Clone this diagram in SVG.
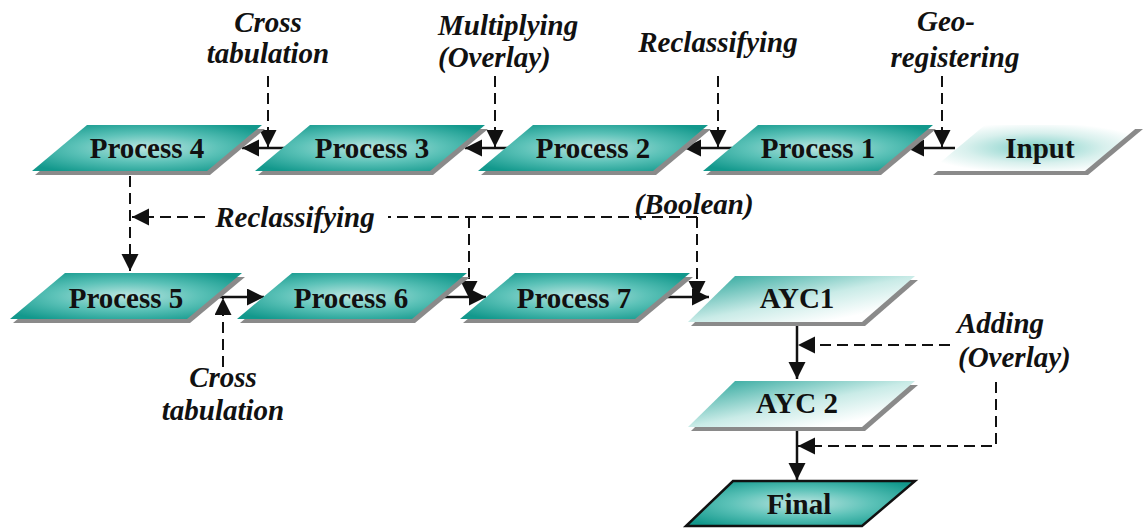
<svg xmlns="http://www.w3.org/2000/svg" width="1145" height="530" viewBox="0 0 1145 530">
<defs>
<radialGradient id="teal" cx="0.5" cy="0.5" r="0.62">
<stop offset="0" stop-color="#bde6e1"/>
<stop offset="0.5" stop-color="#5cc2b8"/>
<stop offset="1" stop-color="#12988c"/>
</radialGradient>
<linearGradient id="light" x1="0" y1="0" x2="1" y2="1">
<stop offset="0" stop-color="#1ea095"/>
<stop offset="0.5" stop-color="#c9ebe7"/>
<stop offset="0.8" stop-color="#ffffff"/>
</linearGradient>
<radialGradient id="inputg" cx="0.5" cy="0.5" r="0.55">
<stop offset="0" stop-color="#7fd0c8"/>
<stop offset="0.6" stop-color="#d8f0ed"/>
<stop offset="1" stop-color="#ffffff"/>
</radialGradient>
<marker id="ah" markerUnits="userSpaceOnUse" markerWidth="18" markerHeight="18" refX="17" refY="8.5" orient="auto">
<path d="M0,0 L17,8.5 L0,17 z" fill="#111"/>
</marker>
</defs>
<style>
.shadow{fill:#8a8a8a}
.proc{fill:url(#teal)}
.lite{fill:url(#light)}
.solid{stroke:#111;stroke-width:2.5;fill:none}
.dash{stroke:#111;stroke-width:2;fill:none;stroke-dasharray:11 6}
</style>

<g id="connectors">
<path class="solid" d="M290,148 H242" marker-end="url(#ah)"/>
<path class="dash" d="M268,76 V147" marker-end="url(#ah)"/>
<path class="solid" d="M513,148 H465" marker-end="url(#ah)"/>
<path class="dash" d="M495,76 V147" marker-end="url(#ah)"/>
<path class="solid" d="M732,148 H684" marker-end="url(#ah)"/>
<path class="dash" d="M718,76 V147" marker-end="url(#ah)"/>
<path class="solid" d="M955,148 H907" marker-end="url(#ah)"/>
<path class="dash" d="M942,76 V147" marker-end="url(#ah)"/>
<path class="dash" d="M130,176 V271" marker-end="url(#ah)"/>
<path class="dash" d="M697,217 H388"/>
<path class="dash" d="M205,217 H132" marker-end="url(#ah)"/>
<path class="dash" d="M469,217 V298" marker-end="url(#ah)"/>
<path class="dash" d="M697,217 V298" marker-end="url(#ah)"/>
<path class="solid" d="M215,297 H264" marker-end="url(#ah)"/>
<path class="dash" d="M223,367 V298" marker-end="url(#ah)"/>
<path class="solid" d="M438,297 H486" marker-end="url(#ah)"/>
<path class="solid" d="M663,297 H709" marker-end="url(#ah)"/>
<path class="solid" d="M797,323 V379" marker-end="url(#ah)"/>
<path class="dash" d="M950,345 H798" marker-end="url(#ah)"/>
<path class="solid" d="M797,428 V480" marker-end="url(#ah)"/>
<path class="dash" d="M996,382 V446 H798" marker-end="url(#ah)"/>
</g>

<g font-family="Liberation Serif, Times New Roman, serif" font-weight="bold" font-size="29" fill="#111" text-anchor="middle">
<g id="process4">
<polygon class="shadow" points="90,129 265,129 210,175 35,175"/>
<polygon class="proc" points="87,125 262,125 207,171 32,171"/>
<text x="147" y="158">Process 4</text>
</g>
<g id="process3">
<polygon class="shadow" points="313,129 488,129 433,175 258,175"/>
<polygon class="proc" points="310,125 485,125 430,171 255,171"/>
<text x="372" y="158">Process 3</text>
</g>
<g id="process2">
<polygon class="shadow" points="536,129 711,129 656,175 481,175"/>
<polygon class="proc" points="533,125 708,125 653,171 478,171"/>
<text x="593" y="158">Process 2</text>
</g>
<g id="process1">
<polygon class="shadow" points="761,129 936,129 881,175 706,175"/>
<polygon class="proc" points="758,125 933,125 878,171 703,171"/>
<text x="818" y="158">Process 1</text>
</g>
<g id="input">
<polygon class="shadow" points="988,129 1143,129 1088,175 933,175"/>
<polygon fill="url(#inputg)" points="985,125 1140,125 1085,171 930,171"/>
<text x="1040" y="158">Input</text>
</g>
<g id="process5">
<polygon class="shadow" points="68,277 245,277 190,323 13,323"/>
<polygon class="proc" points="65,273 242,273 187,319 10,319"/>
<text x="126" y="308">Process 5</text>
</g>
<g id="process6">
<polygon class="shadow" points="295,277 470,277 415,323 240,323"/>
<polygon class="proc" points="292,273 467,273 412,319 237,319"/>
<text x="351" y="308">Process 6</text>
</g>
<g id="process7">
<polygon class="shadow" points="518,277 693,277 638,323 463,323"/>
<polygon class="proc" points="515,273 690,273 635,319 460,319"/>
<text x="574" y="308">Process 7</text>
</g>
<g id="ayc1">
<polygon class="shadow" points="738,280 918,280 865,326 691,326"/>
<polygon class="lite" points="735,276 915,276 862,322 688,322"/>
<text x="797" y="308">AYC1</text>
</g>
<g id="ayc2">
<polygon class="shadow" points="738,385 918,385 865,431 691,431"/>
<polygon class="lite" points="735,381 915,381 862,427 688,427"/>
<text x="797" y="413">AYC 2</text>
</g>
<g id="final">
<polygon class="proc" points="733,481 915,481 862,526 686,526" stroke="#111" stroke-width="2.5"/>
<text x="799" y="514">Final</text>
</g>

<g id="labels" font-style="italic">
<text x="268" y="32">Cross</text>
<text x="268" y="63">tabulation</text>
<text x="438" y="35" text-anchor="start">Multiplying</text>
<text x="438" y="67" text-anchor="start">(Overlay)</text>
<text x="718" y="52">Reclassifying</text>
<text x="946" y="31">Geo-</text>
<text x="955" y="67">registering</text>
<text x="295" y="227">Reclassifying</text>
<text x="694" y="214">(Boolean)</text>
<text x="223" y="387">Cross</text>
<text x="223" y="420">tabulation</text>
<text x="957" y="333" text-anchor="start">Adding</text>
<text x="958" y="367" text-anchor="start">(Overlay)</text>
</g>
</g>
</svg>
